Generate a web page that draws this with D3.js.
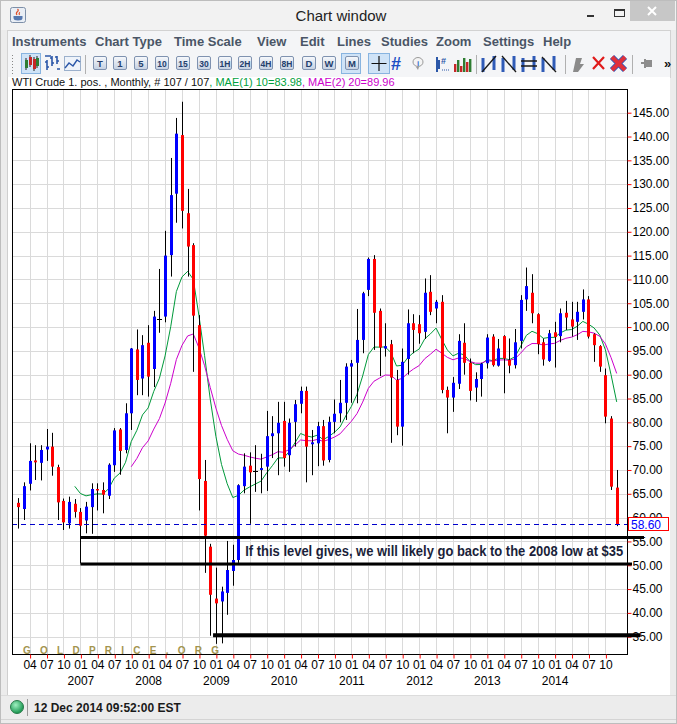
<!DOCTYPE html>
<html>
<head>
<meta charset="utf-8">
<script src="https://cdn.jsdelivr.net/npm/d3@7"></script>
<style>
body { margin: 0; background: #f0f0f0; overflow: hidden; }
svg { display: block; font-family: "Liberation Sans", Arial, sans-serif; }
</style>
</head>
<body>
<svg id="win" width="677" height="724"></svg>
<script>
// WTI Crude 1. pos., monthly bars Feb 2006 .. Dec 2014 (107 bars)
const firstYear = 2006, firstMonth = 1; // 0 based, 1 = Feb

const opens = [
  63.1, 61.8, 67.1, 72.0, 71.5, 74.3, 74.9, 70.6, 63.5, 58.8,
  62.9, 61.2, 59.4, 62.2, 66.0, 65.8, 64.6, 71.0, 78.5, 74.2,
  81.9, 95.3, 89.2, 96.7, 91.2, 101.7, 102.2, 115.1, 128.0, 140.3,
  123.9, 117.2, 100.4, 67.7, 53.9, 43.0, 42.4, 44.2, 48.8, 51.1,
  66.6, 70.9, 69.8, 70.0, 70.7, 77.1, 77.7, 80.3, 73.1, 80.1,
  83.9, 86.6, 75.4, 75.6, 79.2, 72.1, 80.1, 81.9, 84.1, 91.7,
  92.5, 97.3, 107.8, 114.3, 103.4, 95.5, 96.4, 88.9, 79.1, 93.3,
  100.8, 100.6, 99.0, 107.4, 103.9, 105.3, 86.8, 85.2, 88.1, 96.7,
  92.5, 87.3, 89.1, 92.4, 98.0, 91.9, 98.1, 93.1, 92.0, 97.1,
  105.8, 107.2, 102.7, 96.8, 92.9, 98.9, 98.1, 103.0, 101.6, 101.1,
  103.2, 105.8, 98.5, 96.0, 89.9, 80.8, 66.3
];
const highs = [
  64.1, 67.4, 75.6, 75.2, 75.2, 78.6, 77.8, 71.1, 64.0, 64.4,
  63.9, 62.0, 63.3, 67.2, 67.2, 67.4, 71.4, 78.8, 78.8, 84.0,
  95.6, 99.5, 98.3, 100.4, 103.4, 112.2, 120.2, 135.5, 143.9, 147.3,
  129.0, 117.6, 102.5, 72.1, 54.5, 49.5, 45.5, 55.1, 54.3, 67.0,
  73.5, 73.7, 75.2, 73.4, 82.4, 81.3, 84.3, 84.3, 80.8, 84.7,
  87.5, 87.5, 78.4, 80.1, 80.5, 81.2, 84.8, 88.9, 92.4, 93.1,
  103.8, 107.4, 114.6, 115.1, 103.9, 100.8, 97.3, 91.0, 95.5, 103.7,
  102.7, 102.5, 110.2, 110.9, 105.7, 106.7, 87.5, 89.5, 98.5, 100.8,
  93.4, 90.5, 92.5, 98.5, 98.5, 97.5, 98.3, 97.6, 99.6, 106.7,
  112.5, 111.1, 102.9, 97.6, 99.4, 101.1, 103.9, 105.5, 105.3, 105.3,
  107.9, 106.5, 98.7, 96.2, 91.3, 81.3, 70.0
];
const lows = [
  57.7, 59.5, 65.7, 67.9, 67.8, 71.9, 68.8, 59.5, 57.4, 57.7,
  60.0, 50.4, 56.7, 56.6, 61.5, 60.9, 63.9, 69.6, 69.0, 73.5,
  78.4, 85.7, 85.7, 85.4, 87.4, 98.8, 101.0, 110.6, 121.9, 120.7,
  110.6, 90.6, 61.5, 48.4, 35.2, 33.5, 33.6, 39.6, 45.7, 50.5,
  65.1, 58.7, 65.4, 65.1, 65.6, 72.5, 68.9, 70.7, 69.6, 74.9,
  81.9, 67.4, 68.9, 70.8, 70.9, 71.6, 77.7, 80.0, 80.5, 84.1,
  84.0, 94.5, 106.5, 95.2, 89.7, 93.8, 75.7, 77.3, 75.1, 90.0,
  94.5, 96.5, 97.5, 102.5, 100.8, 86.1, 77.7, 82.2, 87.0, 90.0,
  84.6, 84.3, 85.4, 91.3, 91.7, 91.7, 86.1, 90.3, 91.3, 95.5,
  103.4, 100.8, 94.3, 91.9, 92.7, 91.5, 96.8, 99.4, 98.0, 97.3,
  101.6, 97.6, 92.7, 90.6, 79.8, 65.8, 58.2
];
const closes = [
  62.2, 66.6, 71.9, 71.6, 74.2, 74.9, 70.7, 63.2, 59.0, 63.3,
  61.2, 58.3, 62.3, 66.0, 65.7, 64.8, 71.1, 78.3, 74.0, 81.9,
  95.5, 88.9, 96.2, 89.6, 102.2, 101.7, 115.0, 127.7, 140.6, 124.4,
  116.9, 102.4, 68.1, 56.2, 43.8, 42.0, 44.5, 49.0, 51.1, 66.8,
  70.7, 69.5, 69.8, 70.4, 77.1, 77.7, 79.9, 72.5, 79.9, 83.8,
  86.6, 74.9, 75.8, 79.2, 72.0, 80.1, 81.8, 84.1, 91.7, 92.4,
  97.3, 107.1, 114.3, 103.0, 95.7, 96.0, 89.4, 79.1, 92.7, 100.8,
  99.4, 98.7, 107.2, 103.2, 105.3, 86.8, 85.2, 88.3, 97.1, 92.5,
  86.6, 89.1, 92.3, 97.8, 92.0, 95.5, 93.4, 91.9, 96.8, 105.7,
  108.6, 102.9, 96.4, 93.2, 98.7, 97.9, 102.9, 102.0, 100.1, 103.2,
  105.8, 98.0, 96.2, 91.7, 81.2, 66.5, 58.6
];

// MAE(1) 10 and MAE(2) 20 (exponential averages of the closes)
const maPeriods = [10, 20];

const priceTicks = [35, 40, 45, 50, 55, 60, 65, 70, 75, 80, 85, 90, 95, 100,
                    105, 110, 115, 120, 125, 130, 135, 140, 145];
const monthTickLabels = ["01", "04", "07", "10"];
const yearLabels = [2007, 2008, 2009, 2010, 2011, 2012, 2013, 2014];

// hand drawn support levels: price and the bar they start from
const levelPrices = [55.85, 50.25, 35.3];
const levelStart = [11, 11, 34.5];

const noteText = "If this level gives, we will likely go back to the 2008 low at $35";
const menuItems = ["Instruments", "Chart Type", "Time Scale", "View", "Edit", "Lines",
                   "Studies", "Zoom", "Settings", "Help"];
const periodButtons = ["T", "1", "5", "10", "15", "30", "1H", "2H", "4H", "8H", "D", "W", "M"];

const svg = d3.select("#win");
const defs = svg.append("defs");

// ---------- window chrome ----------
svg.append("rect").attr("width", 677).attr("height", 724).attr("fill", "#ececec");
svg.append("rect").attr("width", 677).attr("height", 30).attr("fill", "#f2f2f2");
svg.append("rect").attr("x", 0.5).attr("y", 0.5).attr("width", 676).attr("height", 723)
    .attr("fill", "none").attr("stroke", "#bdbdbd");

// java icon
svg.append("rect").attr("x", 10.5).attr("y", 7.5).attr("width", 15).attr("height", 15)
    .attr("rx", 2).attr("fill", "#e9eef5").attr("stroke", "#7d8fa8");
svg.append("path").attr("d", "M13.5,16 h9 v2 q0,2.5 -4.5,2.5 q-4.5,0 -4.5,-2.5 z")
    .attr("fill", "#5578b0");
svg.append("path").attr("d", "M17,15 q-1.5,-2 0.5,-3.5 q1.5,-1.2 0,-2.5 M19.5,15 q-1,-1.5 0.3,-2.7")
    .attr("fill", "none").attr("stroke", "#e0502a").attr("stroke-width", 1.2);

svg.append("text").attr("x", 341).attr("y", 21).attr("text-anchor", "middle")
    .attr("font-size", 15).attr("fill", "#222").text("Chart window");

// min / max / close
svg.append("line").attr("x1", 587).attr("x2", 594).attr("y1", 16).attr("y2", 16)
    .attr("stroke", "#333").attr("stroke-width", 2);
svg.append("rect").attr("x", 614.5).attr("y", 9.5).attr("width", 10).attr("height", 7)
    .attr("fill", "none").attr("stroke", "#333").attr("stroke-width", 1);
svg.append("line").attr("x1", 614).attr("x2", 625).attr("y1", 10).attr("y2", 10)
    .attr("stroke", "#333").attr("stroke-width", 2);
svg.append("rect").attr("x", 630).attr("y", 1).attr("width", 45).attr("height", 20).attr("fill", "#c7c7c7");
svg.append("path").attr("d", "M648,7 l8,8 M656,7 l-8,8").attr("stroke", "#fff").attr("stroke-width", 2);

// menu and tool bars
svg.append("rect").attr("x", 7.5).attr("y", 30.5).attr("width", 663).attr("height", 47)
    .attr("fill", "#f4f5f7").attr("stroke", "#d2d2d2");

let mx = 12;
const menuX = [12, 95, 174, 257, 300, 337, 381, 436, 483, 543];
svg.append("g").selectAll("text").data(menuItems).join("text")
    .attr("x", (d, i) => menuX[i]).attr("y", 45.5)
    .attr("font-size", 13).attr("font-weight", "bold").attr("fill", "#4a5566")
    .text(d => d);

// grip
for (let k = 0; k < 7; k++) {
  svg.append("rect").attr("x", 12).attr("y", 55 + k * 3).attr("width", 1).attr("height", 1).attr("fill", "#888");
}
function selBox(x0, w) {
  svg.append("rect").attr("x", x0 + 0.5).attr("y", 53.5).attr("width", w).attr("height", 20)
      .attr("fill", "#cfe3f7").attr("stroke", "#88b4e0");
}
selBox(21, 19);
// little candle glyph
[[25, 60, 68, "#2e7d32"], [29, 57, 65, "#c62828"], [33, 59, 69, "#c62828"], [36, 58, 66, "#2e7d32"]].forEach(c => {
  svg.append("line").attr("x1", c[0] + 1).attr("x2", c[0] + 1).attr("y1", c[1] - 2).attr("y2", c[2] + 2).attr("stroke", "#222");
  svg.append("rect").attr("x", c[0]).attr("y", c[1]).attr("width", 3).attr("height", c[2] - c[1]).attr("fill", c[3]);
});
// bar glyph
svg.append("path").attr("d", "M47,70 v-10 M47,62 h-2 M47,67 h2 M52,66 v-10 M52,58 h-2 M52,63 h2 M57,64 v-8 M57,57 h-2 M57,61 h2")
    .attr("stroke", "#2b57a8").attr("stroke-width", 1.6).attr("fill", "none");
svg.append("path").attr("d", "M45,56 h6 M57,69 h3").attr("stroke", "#2b57a8").attr("stroke-width", 1.6);
// line glyph
svg.append("rect").attr("x", 64.5).attr("y", 56.5).attr("width", 16).attr("height", 14)
    .attr("fill", "#eef3fa").attr("stroke", "#9bb0cc");
svg.append("polyline").attr("points", "65,68 69,63 73,66 77,60 80,62")
    .attr("fill", "none").attr("stroke", "#2b57a8").attr("stroke-width", 1.4);

function sep(x0) {
  svg.append("line").attr("x1", x0 + 0.5).attr("x2", x0 + 0.5).attr("y1", 55).attr("y2", 74).attr("stroke", "#b0b0b0");
}
sep(85);

const btnGrad = defs.append("linearGradient").attr("id", "btn").attr("x1", 0).attr("x2", 0).attr("y1", 0).attr("y2", 1);
btnGrad.append("stop").attr("offset", 0).attr("stop-color", "#f7f9fc");
btnGrad.append("stop").attr("offset", 1).attr("stop-color", "#c4d0e2");
const btnX = [93, 113, 134, 155, 176, 197, 218, 238, 259, 280, 302, 322, 345];
selBox(341, 19);
periodButtons.forEach((t, i) => {
  const bx = btnX[i];
  svg.append("rect").attr("x", bx + 0.5).attr("y", 56.5).attr("width", 13).attr("height", 13)
      .attr("rx", 1.5).attr("fill", "url(#btn)").attr("stroke", "#7f92b0");
  svg.append("text").attr("x", bx + 7).attr("y", 66.5).attr("text-anchor", "middle")
      .attr("font-size", t.length > 1 ? 8.5 : 9.5).attr("font-weight", "bold").attr("fill", "#24406d")
      .text(t);
});

// crosshair (selected)
selBox(368, 21);
svg.append("path").attr("d", "M379,56 v15 M371.5,63.5 h15").attr("stroke", "#111").attr("stroke-width", 1.2);
// grid
svg.append("text").attr("x", 391).attr("y", 70).attr("font-size", 18).attr("font-weight", "bold")
    .attr("fill", "#1d4fc4").text("#");
// info
svg.append("ellipse").attr("cx", 418).attr("cy", 62).attr("rx", 5).attr("ry", 4.5)
    .attr("fill", "#f4f4f4").attr("stroke", "#9a9a9a");
svg.append("text").attr("x", 418).attr("y", 65.5).attr("text-anchor", "middle").attr("font-size", 8)
    .attr("font-weight", "bold").attr("fill", "#3a6fd0").text("i");
svg.append("path").attr("d", "M416,67 l2,3 l1,-3").attr("fill", "#9a9a9a");
// data window glyph
svg.append("path").attr("d", "M437,57 v15 M439,60 v9").attr("stroke", "#2b57a8").attr("stroke-width", 2);
svg.append("text").attr("x", 441).attr("y", 64).attr("font-size", 9).attr("font-weight", "bold")
    .attr("fill", "#2b57a8").text("#");
svg.append("path").attr("d", "M442,70 h7").attr("stroke", "#2b57a8").attr("stroke-width", 1).attr("stroke-dasharray", "1,1");
// volume glyph
[[454, 8, "#c62828"], [457, 12, "#2e7d32"], [460, 6, "#c62828"], [463, 14, "#2e7d32"], [466, 10, "#c62828"], [469, 13, "#2e7d32"]]
  .forEach(b => svg.append("rect").attr("x", b[0]).attr("y", 72 - b[1]).attr("width", 2.4).attr("height", b[1]).attr("fill", b[2]));
sep(476);
// drawing tools
[482, 502, 522, 542].forEach((bx, k) => {
  svg.append("path").attr("d", `M${bx + 1},58 v14 M${bx + 12},56 v14`)
      .attr("stroke", "#2f5bb7").attr("stroke-width", 3);
  const d = k === 0 ? `M${bx},72 L${bx + 14},56` : k === 1 ? `M${bx},56 L${bx + 14},72`
          : k === 2 ? `M${bx - 1},61 h16 M${bx - 1},66 h16` : `M${bx},57 L${bx + 14},72`;
  svg.append("path").attr("d", d).attr("stroke", "#1a1a1a").attr("stroke-width", 1.3);
});
sep(565);
svg.append("path").attr("d", "M573,72 l3,-14 h6 l-2,6 h4 l-6,8 z").attr("fill", "#8a8a8a");
svg.append("path").attr("d", "M593,57 l11,12 M604,57 l-11,12").attr("stroke", "#e01b1b").attr("stroke-width", 2.2);
svg.append("path").attr("d", "M612,57 l13,13 M625,57 l-13,13").attr("stroke", "#3558b5").attr("stroke-width", 6);
svg.append("path").attr("d", "M612,57 l13,13 M625,57 l-13,13").attr("stroke", "#e0303a").attr("stroke-width", 4);
sep(632);
svg.append("path").attr("d", "M641,63 h4 M645,59 v9 M645,61 h6 v5 h-6").attr("stroke", "#8d8d8d").attr("stroke-width", 2).attr("fill", "#8d8d8d");
svg.append("text").attr("x", 664).attr("y", 68).attr("font-size", 13).attr("font-weight", "bold").attr("fill", "#111").text("»");

// chart panel
svg.append("rect").attr("x", 8).attr("y", 77).attr("width", 662).attr("height", 618).attr("fill", "#fff");
svg.append("line").attr("x1", 7.5).attr("x2", 7.5).attr("y1", 77).attr("y2", 695).attr("stroke", "#cfcfcf");

// info line
const info = svg.append("text").attr("x", 12).attr("y", 86).attr("font-size", 11).attr("fill", "#111");
info.append("tspan").text("WTI Crude 1. pos. , Monthly, # 107 / 107");
info.append("tspan").attr("fill", "#00a03c").text(", MAE(1) 10=83.98");
info.append("tspan").attr("fill", "#cc00cc").text(", MAE(2) 20=89.96");

// ---------- chart ----------
const plot = { left: 12, right: 627, top: 89, bottom: 654 };
const n = closes.length;
const x = d3.scaleLinear().domain([0, n - 1]).range([18.3, 616.7]);
const y = d3.scaleLinear().domain([35, 145]).range([636.7, 112.7]);

const bars = closes.map((c, i) => {
  const m = (firstMonth + i) % 12;
  return { i, m, year: firstYear + Math.floor((firstMonth + i) / 12), o: opens[i], h: highs[i], l: lows[i], c };
});
const quarterBars = bars.filter(d => d.m % 3 === 0);
const janBars = bars.filter(d => d.m === 0 && yearLabels.includes(d.year));

defs.append("clipPath").attr("id", "clip").append("rect")
    .attr("x", plot.left).attr("y", plot.top).attr("width", plot.right - plot.left).attr("height", plot.bottom - plot.top);

const px = v => Math.round(v) + 0.5;

// grid
const grid = svg.append("g").attr("stroke", "#dadada").attr("stroke-width", 1);
grid.selectAll("line.v").data(quarterBars).join("line").attr("class", "v")
    .attr("x1", d => px(x(d.i))).attr("x2", d => px(x(d.i)))
    .attr("y1", plot.top).attr("y2", plot.bottom);
grid.selectAll("line.h").data(priceTicks).join("line").attr("class", "h")
    .attr("x1", plot.left).attr("x2", plot.right)
    .attr("y1", d => px(y(d))).attr("y2", d => px(y(d)));

// watermark
svg.append("text").attr("x", 23).attr("y", 654).attr("font-size", 10).attr("font-weight", "bold")
    .attr("fill", "#a3944e").attr("textLength", 196).attr("lengthAdjust", "spacing")
    .text("GOLDPRICE.ORG");

// moving averages
function ema(values, period) {
  const k = 2 / (period + 1), out = [];
  let e = d3.mean(values.slice(0, period));
  for (let i = period; i < values.length; i++) {
    e = e + k * (values[i] - e);
    out.push({ i, v: e });
  }
  return out;
}
const maColors = ["#00993a", "#cc00cc"];
const lineGen = d3.line().x(d => x(d.i)).y(d => y(d.v));
const chartG = svg.append("g").attr("clip-path", "url(#clip)");
maPeriods.forEach((p, k) => {
  chartG.append("path").datum(ema(closes, p)).attr("d", lineGen)
      .attr("fill", "none").attr("stroke", maColors[k]).attr("stroke-width", 1);
});

// candles
const candles = chartG.append("g");
candles.selectAll("line").data(bars).join("line")
    .attr("x1", d => px(x(d.i))).attr("x2", d => px(x(d.i)))
    .attr("y1", d => y(d.h)).attr("y2", d => y(d.l))
    .attr("stroke", "#000").attr("stroke-width", 1);
candles.selectAll("rect").data(bars.filter(d => d.o !== d.c)).join("rect")
    .attr("x", d => Math.round(x(d.i)) - 1).attr("width", 3)
    .attr("y", d => y(Math.max(d.o, d.c)))
    .attr("height", d => Math.max(1, Math.abs(y(d.o) - y(d.c))))
    .attr("fill", d => d.c > d.o ? "#0000ff" : "#ff0000");
candles.selectAll("path").data(bars.filter(d => d.o === d.c)).join("path")
    .attr("d", d => `M${Math.round(x(d.i)) - 2},${px(y(d.o))} h5`)
    .attr("stroke", "#000").attr("stroke-width", 1);

// last price dashed line
const last = bars[n - 1];
svg.append("line").attr("x1", plot.left).attr("x2", plot.right)
    .attr("y1", px(y(last.c))).attr("y2", px(y(last.c)))
    .attr("stroke", "#0000cc").attr("stroke-dasharray", "5,4");

// plot frame
svg.append("rect").attr("x", plot.left + 0.5).attr("y", plot.top + 0.5)
    .attr("width", plot.right - plot.left).attr("height", plot.bottom - plot.top)
    .attr("fill", "none").attr("stroke", "#000");

// price axis
const yAxis = svg.append("g").attr("transform", `translate(${plot.right + 0.5},0)`)
    .call(d3.axisRight(y).tickValues(priceTicks).tickFormat(d => d.toFixed(2)).tickSize(4).tickPadding(1))
    .call(g => g.select(".domain").remove());
yAxis.selectAll(".tick line").attr("stroke", "#ff0000");
yAxis.selectAll(".tick text").attr("font-size", 12).attr("font-family", "Liberation Sans, Arial, sans-serif").attr("fill", "#000");

// time axis
const monthAxis = svg.append("g").attr("transform", `translate(0,${plot.bottom + 0.5})`)
    .call(d3.axisBottom(x).tickValues(quarterBars.map(d => d.i))
      .tickFormat(i => monthTickLabels[bars[i].m / 3]).tickSize(4).tickPadding(2))
    .call(g => g.select(".domain").remove());
monthAxis.selectAll(".tick line").attr("stroke", "#ff0000").attr("transform", "translate(0.5,0)");
monthAxis.selectAll(".tick text").attr("font-size", 12).attr("font-family", "Liberation Sans, Arial, sans-serif").attr("fill", "#000");

const yearAxis = svg.append("g").attr("transform", `translate(0,${plot.bottom + 16})`)
    .call(d3.axisBottom(x).tickValues(janBars.map(d => d.i))
      .tickFormat(i => String(bars[i].year)).tickSize(0).tickPadding(6))
    .call(g => g.select(".domain").remove());
yearAxis.selectAll(".tick text").attr("font-size", 12).attr("font-family", "Liberation Sans, Arial, sans-serif").attr("fill", "#000");

// last price box
svg.append("rect").attr("x", plot.right + 1.5).attr("y", Math.round(y(last.c)) - 6.5)
    .attr("width", 40).attr("height", 13).attr("fill", "#fff").attr("stroke", "#ff0000");
svg.append("text").attr("x", plot.right + 4).attr("y", Math.round(y(last.c)) + 4.5)
    .attr("font-size", 12).attr("fill", "#0000ff").text(last.c.toFixed(2));

// support levels
const levelEnd = [644, 632, 640];
const levelWidth = [3, 3, 4];
levelPrices.forEach((p, k) => {
  svg.append("line").attr("x1", x(levelStart[k])).attr("x2", levelEnd[k])
      .attr("y1", y(p)).attr("y2", y(p))
      .attr("stroke", "#000").attr("stroke-width", levelWidth[k]);
});

// note
svg.append("text").attr("x", x(40.2)).attr("y", 556)
    .attr("font-family", "'Liberation Sans Narrow', 'Liberation Sans', Arial, sans-serif")
    .attr("font-size", 14).attr("font-weight", "bold").attr("fill", "#1b1f3a")
    .attr("textLength", 378).attr("lengthAdjust", "spacingAndGlyphs")
    .text(noteText);

// status bar
svg.append("line").attr("x1", 1).attr("x2", 676).attr("y1", 695.5).attr("y2", 695.5).attr("stroke", "#dcdcdc");
const dot = defs.append("radialGradient").attr("id", "dot").attr("cx", 0.4).attr("cy", 0.35).attr("r", 0.6);
dot.append("stop").attr("offset", 0).attr("stop-color", "#9ff0c0");
dot.append("stop").attr("offset", 1).attr("stop-color", "#1f9a55");
svg.append("circle").attr("cx", 17).attr("cy", 707).attr("r", 6.5).attr("fill", "url(#dot)").attr("stroke", "#2a7a4a");
svg.append("line").attr("x1", 27.5).attr("x2", 27.5).attr("y1", 699).attr("y2", 716).attr("stroke", "#9a9a9a");
svg.append("text").attr("x", 34).attr("y", 712).attr("font-size", 12).attr("font-weight", "bold")
    .attr("fill", "#1a1a1a").text("12 Dec 2014 09:52:00 EST");
svg.append("line").attr("x1", 1).attr("x2", 676).attr("y1", 719.5).attr("y2", 719.5).attr("stroke", "#d4d4d4");
</script>
</body>
</html>
